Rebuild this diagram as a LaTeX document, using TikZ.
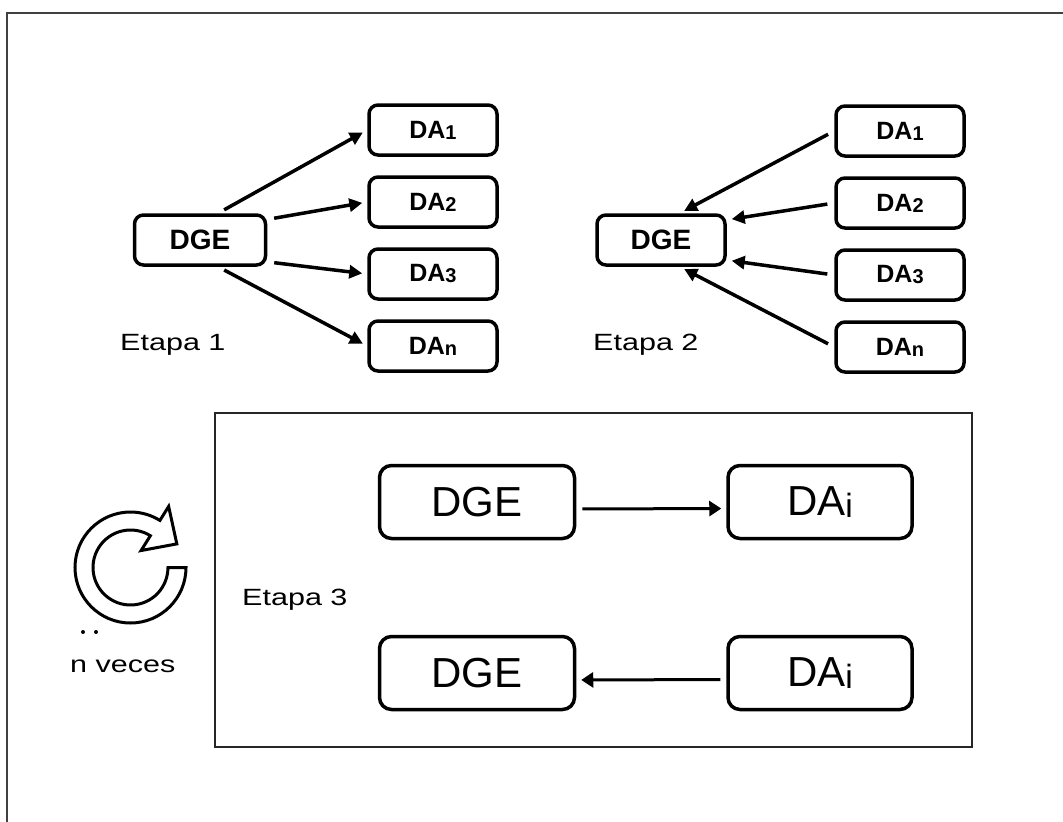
\documentclass[tikz,border=0pt]{standalone}
\usepackage{fontspec}
\usepackage{graphicx}
\setmainfont{Liberation Sans}
\newfontfamily\etapafont[FakeStretch=1.3]{Liberation Sans}
\usetikzlibrary{positioning,arrows.meta}

\newcommand{\idx}[1]{\raisebox{-0.04em}{\scalebox{0.8}{#1}}}

\tikzset{
  small box/.style={draw, rounded corners=9pt, line width=3.5pt, inner sep=0pt,
    minimum width=128pt, minimum height=50pt, font=\bfseries\fontsize{25}{25}\selectfont},
  dge box/.style={small box, font=\bfseries\fontsize{28}{28}\selectfont},
  big box/.style={draw, rounded corners=12pt, line width=3.5pt, inner sep=0pt,
    minimum width=184pt, minimum height=73pt, font=\fontsize{42}{42}\selectfont},
  etapa/.style={anchor=base west, inner sep=0pt, font=\etapafont\fontsize{23.5}{24}\selectfont},
  thick arrow/.style={-{Triangle[length=13pt,width=13pt]}, line width=3.5pt,
    shorten <=7pt, shorten >=5pt},
  thin arrow/.style={-{Triangle[length=12pt,width=15pt]}, line width=3pt,
    shorten <=6pt, shorten >=5pt},
}

\begin{document}
\begin{tikzpicture}[x=1pt,y=-1pt,node distance=72pt,on grid]
  \useasboundingbox (0,0) rectangle (1063,822);
  \draw[line width=1.5pt,black!75] (1063,13) -- (7,13) -- (7,822);

  % Etapa 1
  \node[dge box,minimum width=131pt] (dge_1) at (200,240) {DGE};
  \node[small box] (da1_1) at (433,130) {DA\idx{1}};
  \node[small box] (da1_2) [below=of da1_1] {DA\idx{2}};
  \node[small box] (da1_3) [below=of da1_2] {DA\idx{3}};
  \node[small box] (da1_n) [below=of da1_3] {DA\idx{n}};
  \node[etapa] (et_1) at (120,350) {Etapa 1};
  \path[thick arrow]
    (dge_1.56) edge (da1_1.west)
    (dge_1.17) edge (da1_2.west)
    (dge_1.-18) edge (da1_3.west)
    (dge_1.-56) edge (da1_n.west);

  % Etapa 2
  \node[dge box] (dge_2) at (661,240) {DGE};
  \node[small box] (da2_1) at (900,131) {DA\idx{1}};
  \node[small box] (da2_2) [below=of da2_1] {DA\idx{2}};
  \node[small box] (da2_3) [below=of da2_2] {DA\idx{3}};
  \node[small box] (da2_n) [below=of da2_3] {DA\idx{n}};
  \node[etapa] (et_2) at (593,350) {Etapa 2};
  \path[thick arrow]
    (da2_1.west) edge (dge_2.55)
    (da2_2.west) edge (dge_2.17)
    (da2_3.west) edge (dge_2.-17)
    (da2_n.west) edge (dge_2.-55);

  % Etapa 3
  \draw[line width=1.8pt,black!85] (215,413) rectangle (972,747);
  \node[big box,minimum width=195pt] (dge_3a) at (477,502) {DGE};
  \node[big box] (dai_a) [right=343pt of dge_3a] {DA\idx{i}};
  \node[big box,minimum width=195pt] (dge_3b) [below=171pt of dge_3a] {DGE};
  \node[big box] (dai_b) [right=343pt of dge_3b] {DA\idx{i}};
  \node[etapa] (et_3) at (242,605) {Etapa 3};
  \path[thin arrow]
    (dge_3a.-4) edge (dai_a.-176)
    (dai_b.-176) edge (dge_3b.-4);

  % n veces
  \begin{scope}[shift={(130.5,567.5)},yscale=-1]
    \draw[line width=3pt,fill=white,line join=miter]
      (0:55.5) arc[start angle=0,end angle=-302,radius=55.5]
      -- (58:72) -- (27:52) -- (58:20) -- (58:37.5)
      arc[start angle=58,end angle=360,radius=37.5] -- cycle;
  \end{scope}
  \fill (83,632) circle (2pt) (96,632) circle (2pt);
  \node[etapa] (veces) at (70,672) {n veces};
\end{tikzpicture}
\end{document}
